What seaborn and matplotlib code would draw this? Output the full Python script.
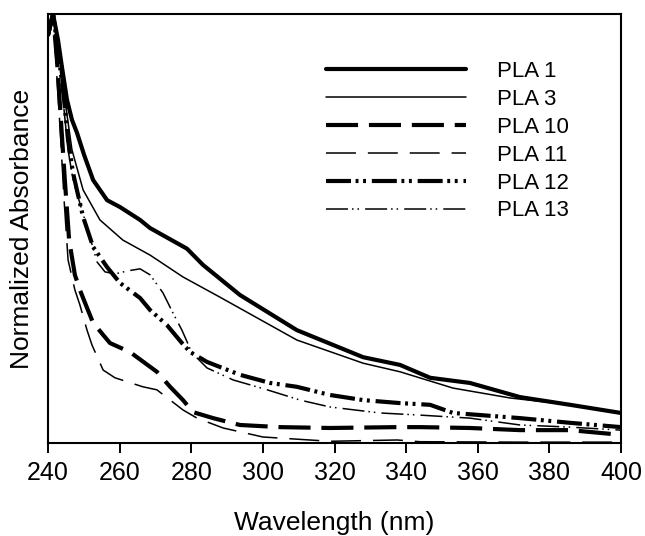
import matplotlib
matplotlib.use("Agg")
import matplotlib.pyplot as plt
import seaborn as sns

# --- data (wavelength in nm, normalized absorbance) ---
nm_pla1 = [240, 241.4, 242.8, 243.9, 245.3, 246.7, 248.1, 250.1, 252.6, 256.5, 260.1,
           265.7, 268.5, 278.8, 283.3, 293.6, 309.5, 328.0, 338.3, 346.7, 357.8, 371.8,
           385.8, 400]
abs_pla1 = [0.951, 1.0, 0.939, 0.876, 0.800, 0.753, 0.723, 0.671, 0.613, 0.566, 0.550,
            0.520, 0.501, 0.453, 0.415, 0.345, 0.263, 0.200, 0.182, 0.152, 0.140, 0.107,
            0.089, 0.070]

nm_pla3 = [240, 241.4, 242.8, 244.7, 246.7, 249.8, 254.5, 260.9, 268.5, 277.7, 288.0,
           309.5, 328.0, 338.3, 353.1, 369.0, 385.8, 400]
abs_pla3 = [0.951, 1.0, 0.939, 0.800, 0.683, 0.590, 0.520, 0.473, 0.438, 0.387, 0.340,
            0.240, 0.186, 0.166, 0.128, 0.105, 0.089, 0.070]

nm_pla10 = [240, 241.4, 242.5, 243.6, 244.7, 245.9, 247.5, 248.9, 250.9, 252.6, 257.3,
            262.9, 270.4, 274.1, 277.7, 280.5, 286.1, 293.6, 304.8, 318.7, 337.5, 343.9,
            357.8, 371.8, 385.8, 400]
abs_pla10 = [0.951, 1.0, 0.893, 0.753, 0.613, 0.473, 0.392, 0.357, 0.315, 0.280, 0.233,
             0.212, 0.166, 0.131, 0.100, 0.072, 0.058, 0.042, 0.037, 0.035, 0.037, 0.037,
             0.035, 0.030, 0.030, 0.019]

nm_pla11 = [240, 241.4, 242.2, 243.4, 244.5, 245.6, 247.5, 248.9, 250.9, 252.3, 255.4,
            258.7, 266.5, 270.4, 277.7, 281.6, 288.9, 300.0, 318.7, 337.5, 343.9, 371.8, 400]
abs_pla11 = [0.951, 1.0, 0.893, 0.730, 0.566, 0.427, 0.357, 0.322, 0.263, 0.228, 0.170,
             0.152, 0.131, 0.124, 0.077, 0.058, 0.035, 0.014, 0.004, 0.007, 0.003, 0.002, 0.002]

nm_pla12 = [240, 241.4, 242.8, 244.5, 245.6, 247.0, 249.8, 252.6, 256.5, 260.1, 265.7,
            268.5, 273.2, 277.4, 279.7, 284.4, 293.6, 302.0, 309.5, 318.7, 328.0, 338.3,
            346.7, 353.1, 371.8, 385.8, 400]
abs_pla12 = [0.951, 1.0, 0.916, 0.800, 0.706, 0.629, 0.527, 0.457, 0.410, 0.373, 0.338,
             0.310, 0.275, 0.233, 0.212, 0.189, 0.159, 0.140, 0.131, 0.112, 0.100, 0.093,
             0.089, 0.070, 0.058, 0.047, 0.037]

nm_pla13 = [240, 241.4, 242.8, 244.2, 245.6, 247.0, 248.4, 250.9, 253.7, 255.9, 258.7,
            262.1, 265.7, 268.5, 272.1, 274.9, 277.4, 280.2, 284.4, 291.7, 301.2, 310.4,
            318.7, 332.7, 343.9, 357.8, 371.8, 385.8, 400]
abs_pla13 = [0.951, 1.0, 0.928, 0.800, 0.683, 0.613, 0.573, 0.503, 0.422, 0.399, 0.394,
             0.401, 0.406, 0.392, 0.350, 0.303, 0.263, 0.210, 0.175, 0.147, 0.124, 0.100,
             0.084, 0.070, 0.065, 0.058, 0.042, 0.037, 0.030]

labels = ["PLA 1", "PLA 3", "PLA 10", "PLA 11", "PLA 12", "PLA 13"]
x_data = [nm_pla1, nm_pla3, nm_pla10, nm_pla11, nm_pla12, nm_pla13]
y_data = [abs_pla1, abs_pla3, abs_pla10, abs_pla11, abs_pla12, abs_pla13]
x_ticks = [240, 260, 280, 300, 320, 340, 360, 380, 400]

# line width (pt) and dash pattern (in linewidth units, None = solid)
widths = [3.0, 1.1, 3.0, 1.1, 3.0, 1.1]
dashes = [None, None, (7.7, 2.6), (19.6, 7.8),
          (6, 1.1, 0.7, 1.1, 0.7, 1.4), (14.4, 2.6, 1, 2.6, 1, 4)]

# --- plotting ---
sns.set_style("white")
plt.rcParams["font.family"] = ["Liberation Sans", "DejaVu Sans"]
plt.rcParams["text.color"] = "black"
plt.rcParams["axes.labelcolor"] = "black"

fig = plt.figure(figsize=(6.45, 5.36), dpi=100)
ax = fig.add_axes([48 / 645, 1 - 443 / 536, 573 / 645, 429 / 536])

for xs, ys, name, lw, d in zip(x_data, y_data, labels, widths, dashes):
    sns.lineplot(x=xs, y=ys, color="black", linewidth=lw, label=name, ax=ax,
                 estimator=None, sort=False)
    if d is not None:
        ax.lines[-1].set_dashes(d)

ax.set_xlim(240, 400)
ax.set_ylim(0, 1.0)
ax.set_xticks(x_ticks)
ax.set_yticks([])
ax.tick_params(axis="x", direction="out", length=7, width=1.4, pad=6,
               labelsize=18, colors="black", bottom=True)
for sp in ax.spines.values():
    sp.set_visible(True)
    sp.set_color("black")
    sp.set_linewidth(1.5)

ax.set_xlabel("Wavelength (nm)", fontsize=19, labelpad=19)
ax.set_ylabel("Normalized Absorbance", fontsize=19, labelpad=10)

ax.legend(loc="upper left", bbox_to_anchor=(326 / 645, 1 - 61 / 536),
          bbox_transform=fig.transFigure, frameon=False, fontsize=16,
          handlelength=6.3, handletextpad=1.4, labelspacing=0.31,
          borderpad=0, borderaxespad=0)

fig.savefig("out.png", dpi=100)
